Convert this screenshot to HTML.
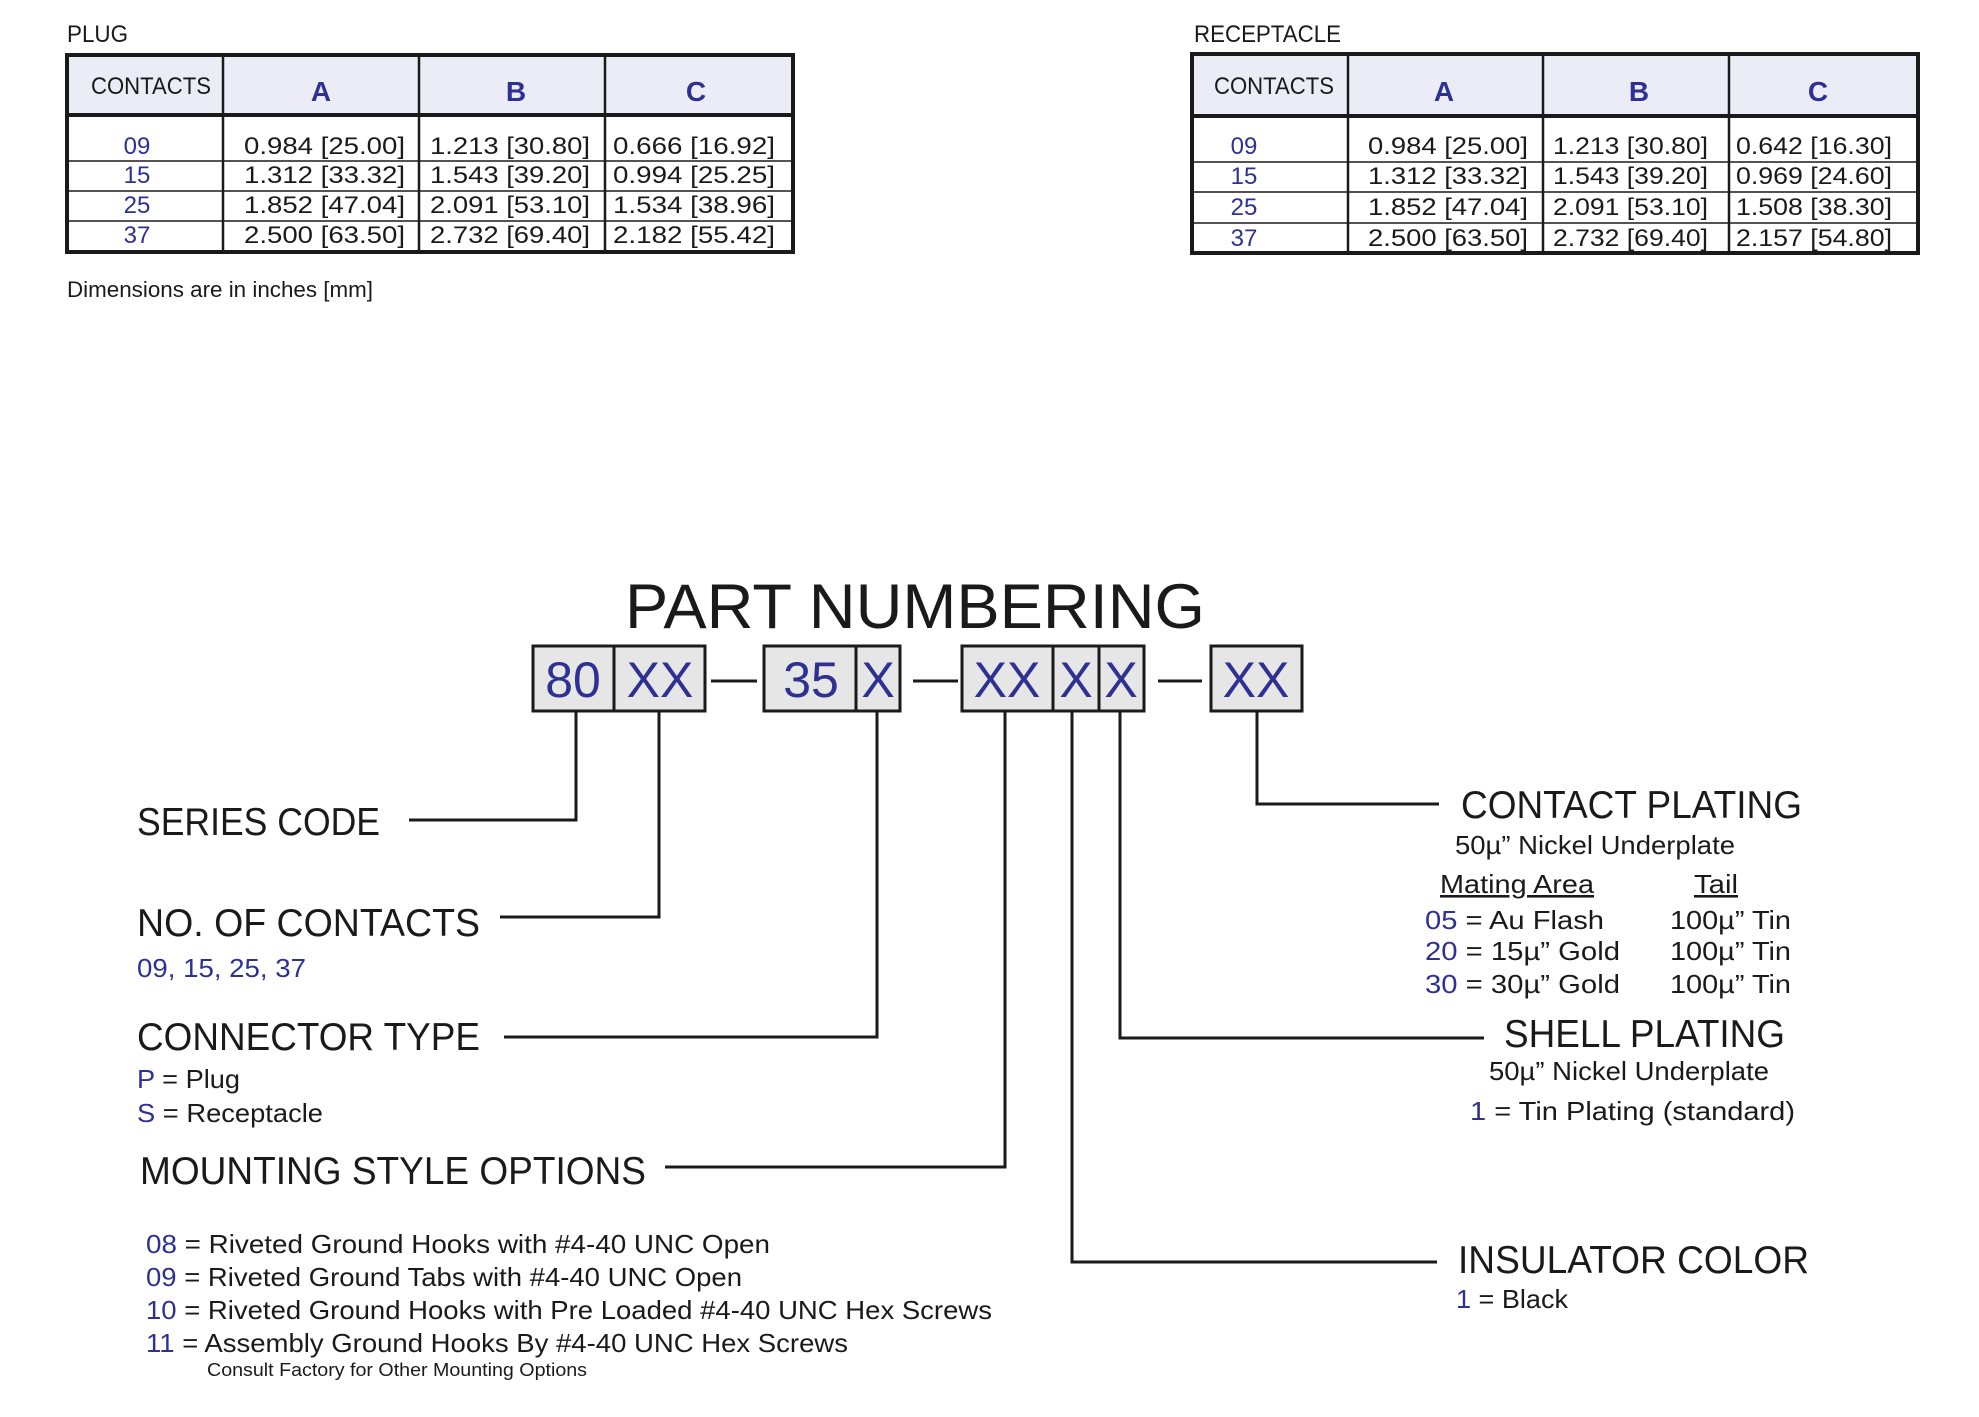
<!DOCTYPE html>
<html><head><meta charset="utf-8"><style>
html,body{margin:0;padding:0;background:#fff;}
svg{display:block;font-family:"Liberation Sans",Arial,sans-serif;}
.b{fill:#2e3192}
.k{fill:#1a1a1a}
</style></head><body>
<svg width="1979" height="1417" viewBox="0 0 1979 1417" xmlns="http://www.w3.org/2000/svg">
<g class="k" font-size="24">
<text x="67" y="42" textLength="61" lengthAdjust="spacingAndGlyphs">PLUG</text>
<text x="1194" y="42" textLength="147" lengthAdjust="spacingAndGlyphs">RECEPTACLE</text>
</g>
<!-- Plug table -->
<rect x="67" y="55" width="726" height="60" fill="#ececf6"/>
<g stroke="#1a1a1a" fill="none">
<rect x="67" y="55" width="726" height="197" stroke-width="4"/>
<line x1="67" y1="115" x2="793" y2="115" stroke-width="4"/>
<line x1="223" y1="55" x2="223" y2="252" stroke-width="2.5"/>
<line x1="419" y1="55" x2="419" y2="252" stroke-width="2.5"/>
<line x1="605" y1="55" x2="605" y2="252" stroke-width="2.5"/>
<line x1="67" y1="161" x2="793" y2="161" stroke-width="1.5"/>
<line x1="67" y1="191" x2="793" y2="191" stroke-width="1.5"/>
<line x1="67" y1="221" x2="793" y2="221" stroke-width="1.5"/>
</g>
<!-- Receptacle table -->
<rect x="1192" y="54" width="726" height="62" fill="#ececf6"/>
<g stroke="#1a1a1a" fill="none">
<rect x="1192" y="54" width="726" height="199" stroke-width="4"/>
<line x1="1192" y1="116" x2="1918" y2="116" stroke-width="4"/>
<line x1="1348" y1="54" x2="1348" y2="253" stroke-width="2.5"/>
<line x1="1543" y1="54" x2="1543" y2="253" stroke-width="2.5"/>
<line x1="1729" y1="54" x2="1729" y2="253" stroke-width="2.5"/>
<line x1="1192" y1="162" x2="1918" y2="162" stroke-width="1.5"/>
<line x1="1192" y1="192" x2="1918" y2="192" stroke-width="1.5"/>
<line x1="1192" y1="223" x2="1918" y2="223" stroke-width="1.5"/>
</g>
<g class="k" font-size="24">
<text x="91" y="94" textLength="120" lengthAdjust="spacingAndGlyphs">CONTACTS</text>
<text x="1214" y="94" textLength="120" lengthAdjust="spacingAndGlyphs">CONTACTS</text>
</g>
<g class="b" font-size="28" font-weight="bold" text-anchor="middle">
<text x="321" y="101">A</text><text x="516" y="101">B</text><text x="696" y="101">C</text>
<text x="1444" y="101">A</text><text x="1639" y="101">B</text><text x="1818" y="101">C</text>
</g>
<g class="b" font-size="24" text-anchor="middle">
<text x="137" y="154">09</text><text x="137" y="183">15</text><text x="137" y="213">25</text><text x="137" y="243">37</text>
<text x="1244" y="154">09</text><text x="1244" y="184">15</text><text x="1244" y="215">25</text><text x="1244" y="246">37</text>
</g>
<g class="k" font-size="24" lengthAdjust="spacingAndGlyphs">
<text x="244" y="154" textLength="161" lengthAdjust="spacingAndGlyphs">0.984 [25.00]</text>
<text x="244" y="183" textLength="161" lengthAdjust="spacingAndGlyphs">1.312 [33.32]</text>
<text x="244" y="213" textLength="161" lengthAdjust="spacingAndGlyphs">1.852 [47.04]</text>
<text x="244" y="243" textLength="161" lengthAdjust="spacingAndGlyphs">2.500 [63.50]</text>
<text x="430" y="154" textLength="160" lengthAdjust="spacingAndGlyphs">1.213 [30.80]</text>
<text x="430" y="183" textLength="160" lengthAdjust="spacingAndGlyphs">1.543 [39.20]</text>
<text x="430" y="213" textLength="160" lengthAdjust="spacingAndGlyphs">2.091 [53.10]</text>
<text x="430" y="243" textLength="160" lengthAdjust="spacingAndGlyphs">2.732 [69.40]</text>
<text x="613" y="154" textLength="162" lengthAdjust="spacingAndGlyphs">0.666 [16.92]</text>
<text x="613" y="183" textLength="162" lengthAdjust="spacingAndGlyphs">0.994 [25.25]</text>
<text x="613" y="213" textLength="162" lengthAdjust="spacingAndGlyphs">1.534 [38.96]</text>
<text x="613" y="243" textLength="162" lengthAdjust="spacingAndGlyphs">2.182 [55.42]</text>
<text x="1368" y="154" textLength="160" lengthAdjust="spacingAndGlyphs">0.984 [25.00]</text>
<text x="1368" y="184" textLength="160" lengthAdjust="spacingAndGlyphs">1.312 [33.32]</text>
<text x="1368" y="215" textLength="160" lengthAdjust="spacingAndGlyphs">1.852 [47.04]</text>
<text x="1368" y="246" textLength="160" lengthAdjust="spacingAndGlyphs">2.500 [63.50]</text>
<text x="1553" y="154" textLength="155" lengthAdjust="spacingAndGlyphs">1.213 [30.80]</text>
<text x="1553" y="184" textLength="155" lengthAdjust="spacingAndGlyphs">1.543 [39.20]</text>
<text x="1553" y="215" textLength="155" lengthAdjust="spacingAndGlyphs">2.091 [53.10]</text>
<text x="1553" y="246" textLength="155" lengthAdjust="spacingAndGlyphs">2.732 [69.40]</text>
<text x="1736" y="154" textLength="156" lengthAdjust="spacingAndGlyphs">0.642 [16.30]</text>
<text x="1736" y="184" textLength="156" lengthAdjust="spacingAndGlyphs">0.969 [24.60]</text>
<text x="1736" y="215" textLength="156" lengthAdjust="spacingAndGlyphs">1.508 [38.30]</text>
<text x="1736" y="246" textLength="156" lengthAdjust="spacingAndGlyphs">2.157 [54.80]</text>
</g>
<text class="k" x="67" y="297" font-size="22" textLength="306" lengthAdjust="spacingAndGlyphs">Dimensions are in inches  [mm]</text>

<text class="k" x="625" y="628" font-size="63" textLength="580" lengthAdjust="spacingAndGlyphs">PART NUMBERING</text>

<!-- boxes -->
<g fill="#e6e6e6" stroke="#1a1a1a" stroke-width="3">
<rect x="533" y="646" width="172" height="65"/>
<rect x="764" y="646" width="136" height="65"/>
<rect x="962" y="646" width="182" height="65"/>
<rect x="1211" y="646" width="91" height="65"/>
</g>
<g stroke="#1a1a1a" stroke-width="3" fill="none">
<line x1="614" y1="646" x2="614" y2="711"/>
<line x1="856" y1="646" x2="856" y2="711"/>
<line x1="1053" y1="646" x2="1053" y2="711"/>
<line x1="1099" y1="646" x2="1099" y2="711"/>
<line x1="711" y1="681" x2="757" y2="681"/>
<line x1="913" y1="681" x2="958" y2="681"/>
<line x1="1158" y1="681" x2="1202" y2="681"/>
<polyline points="576,711 576,820 409,820"/>
<polyline points="659,711 659,917 500,917"/>
<polyline points="877,711 877,1037 504,1037"/>
<polyline points="1005,711 1005,1167 665,1167"/>
<polyline points="1072,711 1072,1262 1437,1262"/>
<polyline points="1120,711 1120,1038 1484,1038"/>
<polyline points="1257,711 1257,804 1439,804"/>
</g>
<g class="b" font-size="50" text-anchor="middle">
<text x="573" y="697">80</text>
<text x="660" y="697">XX</text>
<text x="811" y="697">35</text>
<text x="878" y="697">X</text>
<text x="1007" y="697">XX</text>
<text x="1076" y="697">X</text>
<text x="1121" y="697">X</text>
<text x="1256" y="697">XX</text>
</g>

<g class="k" font-size="39">
<text x="137" y="835" textLength="243" lengthAdjust="spacingAndGlyphs">SERIES CODE</text>
<text x="137" y="936" textLength="343" lengthAdjust="spacingAndGlyphs">NO. OF CONTACTS</text>
<text x="137" y="1050" textLength="343" lengthAdjust="spacingAndGlyphs">CONNECTOR TYPE</text>
<text x="140" y="1184" textLength="506" lengthAdjust="spacingAndGlyphs">MOUNTING STYLE OPTIONS</text>
<text x="1461" y="818" textLength="341" lengthAdjust="spacingAndGlyphs">CONTACT PLATING</text>
<text x="1504" y="1047" textLength="281" lengthAdjust="spacingAndGlyphs">SHELL PLATING</text>
<text x="1458" y="1273" textLength="351" lengthAdjust="spacingAndGlyphs">INSULATOR COLOR</text>
</g>
<g class="k" font-size="26">
<text x="137" y="977" textLength="169" lengthAdjust="spacingAndGlyphs" class="b">09, 15, 25, 37</text>
<text x="137" y="1088" textLength="103" lengthAdjust="spacingAndGlyphs"><tspan class="b">P</tspan> = Plug</text>
<text x="137" y="1122" textLength="186" lengthAdjust="spacingAndGlyphs"><tspan class="b">S</tspan> = Receptacle</text>
<text x="146" y="1253" textLength="624" lengthAdjust="spacingAndGlyphs"><tspan class="b">08</tspan> = Riveted Ground Hooks  with #4-40 UNC Open</text>
<text x="146" y="1286" textLength="596" lengthAdjust="spacingAndGlyphs"><tspan class="b">09</tspan> = Riveted Ground Tabs with #4-40 UNC Open</text>
<text x="146" y="1319" textLength="846" lengthAdjust="spacingAndGlyphs"><tspan class="b">10</tspan> = Riveted Ground Hooks with Pre Loaded #4-40 UNC Hex Screws</text>
<text x="146" y="1352" textLength="702" lengthAdjust="spacingAndGlyphs"><tspan class="b">11</tspan> = Assembly Ground Hooks By #4-40 UNC Hex Screws</text>
<text x="1455" y="854" textLength="280" lengthAdjust="spacingAndGlyphs">50µ” Nickel Underplate</text>
<text x="1440" y="893" textLength="154" lengthAdjust="spacingAndGlyphs" text-decoration="underline">Mating Area</text>
<text x="1694" y="893" textLength="44" lengthAdjust="spacingAndGlyphs" text-decoration="underline">Tail</text>
<text x="1425" y="929" textLength="179" lengthAdjust="spacingAndGlyphs"><tspan class="b">05</tspan> = Au Flash</text>
<text x="1425" y="960" textLength="195" lengthAdjust="spacingAndGlyphs"><tspan class="b">20</tspan> = 15µ” Gold</text>
<text x="1425" y="993" textLength="195" lengthAdjust="spacingAndGlyphs"><tspan class="b">30</tspan> = 30µ” Gold</text>
<text x="1670" y="929" textLength="121" lengthAdjust="spacingAndGlyphs">100µ” Tin</text>
<text x="1670" y="960" textLength="121" lengthAdjust="spacingAndGlyphs">100µ” Tin</text>
<text x="1670" y="993" textLength="121" lengthAdjust="spacingAndGlyphs">100µ” Tin</text>
<text x="1489" y="1080" textLength="280" lengthAdjust="spacingAndGlyphs">50µ” Nickel Underplate</text>
<text x="1470" y="1120" textLength="325" lengthAdjust="spacingAndGlyphs"><tspan class="b">1</tspan> = Tin Plating (standard)</text>
<text x="1456" y="1308" textLength="112" lengthAdjust="spacingAndGlyphs"><tspan class="b">1</tspan> = Black</text>
</g>
<text class="k" x="207" y="1376" font-size="18" textLength="380" lengthAdjust="spacingAndGlyphs">Consult Factory for Other Mounting Options</text>
</svg>
</body></html>
